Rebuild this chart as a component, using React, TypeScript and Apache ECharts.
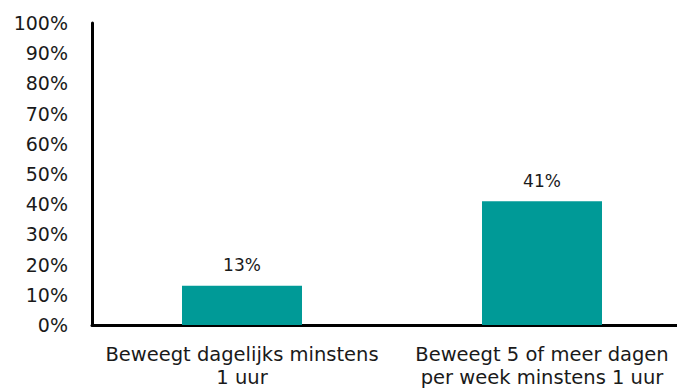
import React, { useEffect, useRef } from "react";
import * as echarts from "echarts";

const categories = ["Beweegt dagelijks minstens\n1 uur", "Beweegt 5 of meer dagen\nper week minstens 1 uur"];
const values = [13, 41];

export default function App() {
  const ref = useRef<HTMLDivElement>(null);
  useEffect(() => {
    const chart = echarts.init(ref.current!, null, { renderer: "svg" });
    const font = "DejaVu Sans";
    chart.setOption({
      animation: false,
      grid: { left: 92, right: 8, top: 23, bottom: 63, containLabel: false },
      xAxis: {
        type: "category",
        data: categories,
        axisLine: { lineStyle: { color: "#000", width: 3 } },
        axisTick: { show: false },
        axisLabel: { interval: 0, fontFamily: font, fontSize: 19.5, color: "#1a1a1a", margin: 18, lineHeight: 23 },
      },
      yAxis: {
        type: "value",
        min: 0,
        max: 100,
        interval: 10,
        axisLine: { show: true, lineStyle: { color: "#000", width: 3 } },
        axisTick: { show: false },
        splitLine: { show: false },
        axisLabel: { fontFamily: font, fontSize: 19, color: "#1a1a1a", margin: 24, formatter: "{value}%" },
      },
      series: [
        {
          type: "bar",
          data: values,
          barWidth: 120,
          itemStyle: { color: "#009A97" },
          label: { show: true, position: "top", distance: 12, formatter: "{c}%", fontFamily: font, fontSize: 17, color: "#1a1a1a" },
        },
      ],
    });
    return () => chart.dispose();
  }, []);
  return (
    <div style={{ position: "fixed", left: 0, top: 0, width: 677, height: 389, overflow: "hidden", background: "#fff" }}>
      <div ref={ref} style={{ width: 700, height: 389 }} />
    </div>
  );
}
